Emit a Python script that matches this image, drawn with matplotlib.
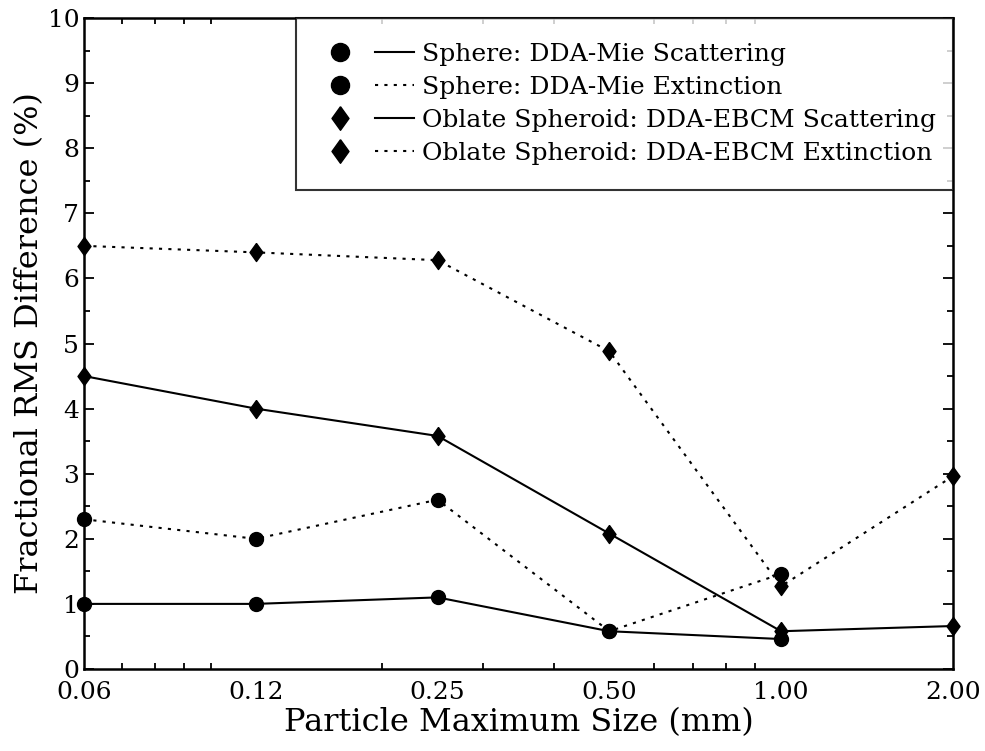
import matplotlib
matplotlib.use("Agg")
import matplotlib.pyplot as plt
from matplotlib.lines import Line2D
from matplotlib.legend_handler import HandlerTuple
from matplotlib.ticker import FixedLocator, FixedFormatter, NullFormatter
import numpy as np

# particle maximum size (mm)
sizes = [0.06, 0.12, 0.25, 0.50, 1.00, 2.00]
size_labels = ["0.06", "0.12", "0.25", "0.50", "1.00", "2.00"]

# fractional RMS difference (%)
sphere_sca = [1.0, 1.0, 1.1, 0.58, 0.46]
sphere_ext = [2.3, 2.0, 2.6, 0.58, 1.46]
oblate_sca = [4.5, 4.0, 3.58, 2.08, 0.58, 0.66]
oblate_ext = [6.5, 6.4, 6.28, 4.88, 1.27, 2.96]

labels = [
    "Sphere: DDA-Mie Scattering",
    "Sphere: DDA-Mie Extinction",
    "Oblate Spheroid: DDA-EBCM Scattering",
    "Oblate Spheroid: DDA-EBCM Extinction",
]

plt.rcParams["font.family"] = ["DejaVu Serif"]

# slightly wider diamond than matplotlib's 'd'
diamond = [(0, 1), (0.72, 0), (0, -1), (-0.72, 0), (0, 1)]

fig = plt.figure(figsize=(9.85, 7.51), dpi=100)
ax = fig.add_axes([0.0853, 0.1092, 0.882, 0.8668])

dots = (0, (1.5, 3.0))
lw = 1.5
ax.plot(sizes[:len(sphere_sca)], sphere_sca, color="black", lw=lw,
        marker="o", ms=10, clip_on=False)
ax.plot(sizes[:len(sphere_ext)], sphere_ext, color="black", lw=lw, ls=dots,
        marker="o", ms=10, clip_on=False)
ax.plot(sizes, oblate_sca, color="black", lw=lw,
        marker=diamond, ms=13, clip_on=False)
ax.plot(sizes, oblate_ext, color="black", lw=lw, ls=dots,
        marker=diamond, ms=13, clip_on=False)

ax.set_xscale("log")
ax.set_xlim(0.06, 2.0)
ax.set_ylim(0, 10)
ax.xaxis.set_major_locator(FixedLocator(sizes))
ax.xaxis.set_major_formatter(FixedFormatter(size_labels))
ax.xaxis.set_minor_locator(FixedLocator([0.07, 0.08, 0.09, 0.1, 0.2, 0.3, 0.4,
                                         0.6, 0.7, 0.8, 0.9, 1.0]))
ax.xaxis.set_minor_formatter(NullFormatter())
ax.set_yticks(np.arange(0, 11, 1))
ax.set_yticks(np.arange(0.5, 10, 1), minor=True)

ax.tick_params(which="both", direction="in", top=True, right=True,
               labelsize=18, width=1.3)
ax.tick_params(which="major", length=7)
ax.tick_params(which="minor", length=4)
ax.tick_params(axis="x", which="major", length=0, pad=9)
for s in ax.spines.values():
    s.set_linewidth(1.8)

ax.set_xlabel("Particle Maximum Size (mm)", fontsize=23, labelpad=2)
ax.set_ylabel("Fractional RMS Difference (%)", fontsize=23, labelpad=2)

# legend: marker, then a short line sample
handles = []
for mk, ls in [("o", "-"), ("o", dots), (diamond, "-"), (diamond, dots)]:
    m = Line2D([], [], color="black", marker=mk, ls="none",
               ms=13 if mk == "o" else 17)
    l = Line2D([], [], color="black", lw=lw, ls=ls)
    handles.append((m, l))
leg = ax.legend(handles, labels, handler_map={tuple: HandlerTuple(ndivide=None, pad=0.6)},
                loc="upper left", bbox_to_anchor=(0.244, 0, 0.756, 1.0),
                mode="expand", borderaxespad=0, fancybox=False, fontsize=18,
                handlelength=3.7, handletextpad=0.35, labelspacing=0.4,
                borderpad=1.0, frameon=True)
leg.get_frame().set_edgecolor("black")
leg.get_frame().set_linewidth(1.5)

fig.savefig("out.png", dpi=100)
